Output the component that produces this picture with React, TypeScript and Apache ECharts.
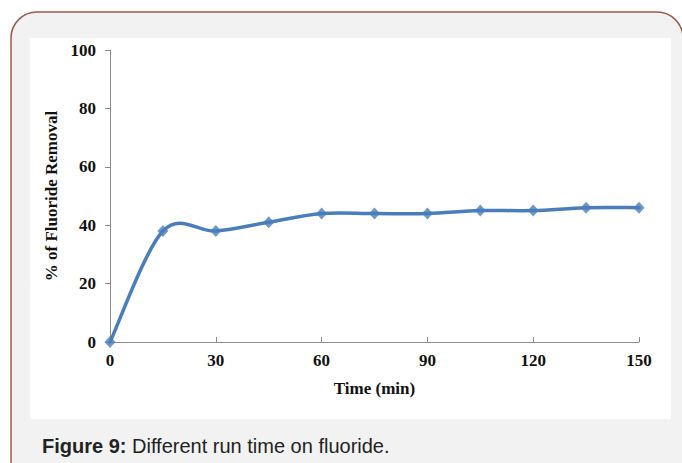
import React, { useEffect, useRef } from "react";
import * as echarts from "echarts";

const times = [0, 15, 30, 45, 60, 75, 90, 105, 120, 135, 150];
const removal = [0, 38, 38, 41, 44, 44, 44, 45, 45, 46, 46];
const xTicks = [0, 30, 60, 90, 120, 150];
const yTicks = [0, 20, 40, 60, 80, 100];

const LINE = "#4a7ebb";

export default function App() {
  const ref = useRef<HTMLDivElement>(null);
  useEffect(() => {
    const chart = echarts.init(ref.current!, null, { renderer: "svg" });
    const serif = "'Liberation Serif', 'Times New Roman', serif";
    const pairs = times.map((t, i) => [t, removal[i]]);
    chart.setOption({
      animation: false,
      backgroundColor: "#ffffff",
      graphic: [
        {
          type: "rect",
          z: -10,
          shape: { x: 11, y: 12, width: 672, height: 480, r: 26 },
          style: { fill: "#f2f2f2", stroke: "#9c5b47", lineWidth: 1.5 },
          silent: true,
        },
        {
          type: "rect",
          z: -9,
          shape: { x: 30, y: 38, width: 641, height: 381 },
          style: { fill: "#ffffff" },
          silent: true,
        },
        {
          type: "text",
          x: 42,
          y: 446,
          style: {
            rich: {
              b: { fontFamily: "'Liberation Sans', Arial, sans-serif", fontWeight: "bold", fontSize: 20, fill: "#222" },
              n: { fontFamily: "'Liberation Sans', Arial, sans-serif", fontSize: 20, fill: "#222" },
            },
            text: "{b|Figure 9:}{n| Different run time on fluoride.}",
            verticalAlign: "middle",
          },
        },
      ],
      grid: { left: 110, right: 43, top: 50, bottom: 121, containLabel: false },
      xAxis: {
        type: "value",
        min: 0,
        max: 150,
        interval: 30,
        name: "Time (min)",
        nameLocation: "middle",
        nameGap: 38,
        nameTextStyle: { fontFamily: serif, fontWeight: "bold", fontSize: 17, color: "#111" },
        axisLine: { lineStyle: { color: "#8c8c8c", width: 1 } },
        axisTick: { show: true, inside: true, length: 5, lineStyle: { color: "#8c8c8c" } },
        axisLabel: {
          fontFamily: serif,
          fontWeight: "bold",
          fontSize: 17,
          color: "#111",
          margin: 10,
          formatter: (v: number) => (xTicks.includes(v) ? String(v) : ""),
        },
        splitLine: { show: false },
      },
      yAxis: {
        type: "value",
        min: 0,
        max: 100,
        interval: 20,
        name: "% of Fluoride Removal",
        nameLocation: "middle",
        nameGap: 50,
        nameTextStyle: { fontFamily: serif, fontWeight: "bold", fontSize: 17, color: "#111" },
        axisLine: { show: true, lineStyle: { color: "#8c8c8c", width: 1 } },
        axisTick: { show: true, inside: false, length: 5, lineStyle: { color: "#8c8c8c" } },
        axisLabel: {
          fontFamily: serif,
          fontWeight: "bold",
          fontSize: 17,
          color: "#111",
          margin: 14,
          formatter: (v: number) => (yTicks.includes(v) ? String(v) : ""),
        },
        splitLine: { show: false },
      },
      series: [
        {
          type: "custom",
          data: [pairs[0]],
          silent: true,
          z: 2,
          renderItem: (_params: any, api: any) => {
            const P = pairs.map((p) => api.coord(p));
            let d = `M${P[0][0]},${P[0][1]}`;
            for (let i = 0; i < P.length - 1; i++) {
              const p0 = P[Math.max(i - 1, 0)];
              const p1 = P[i];
              const p2 = P[i + 1];
              const p3 = P[Math.min(i + 2, P.length - 1)];
              const c1x = p1[0] + (p2[0] - p0[0]) / 6;
              const c1y = p1[1] + (p2[1] - p0[1]) / 6;
              const c2x = p2[0] - (p3[0] - p1[0]) / 6;
              const c2y = p2[1] - (p3[1] - p1[1]) / 6;
              d += ` C${c1x},${c1y} ${c2x},${c2y} ${p2[0]},${p2[1]}`;
            }
            return {
              type: "path",
              shape: { pathData: d },
              style: { fill: "none", stroke: LINE, lineWidth: 3.5, lineJoin: "round", lineCap: "round" },
            };
          },
        },
        {
          type: "scatter",
          data: pairs,
          symbol: "diamond",
          symbolSize: [11, 12],
          z: 3,
          itemStyle: { color: LINE },
        },
      ],
    });
    return () => chart.dispose();
  }, []);
  return (
    <div
      ref={ref}
      style={{ position: "fixed", left: 0, top: 0, width: 682, height: 463 }}
    />
  );
}
